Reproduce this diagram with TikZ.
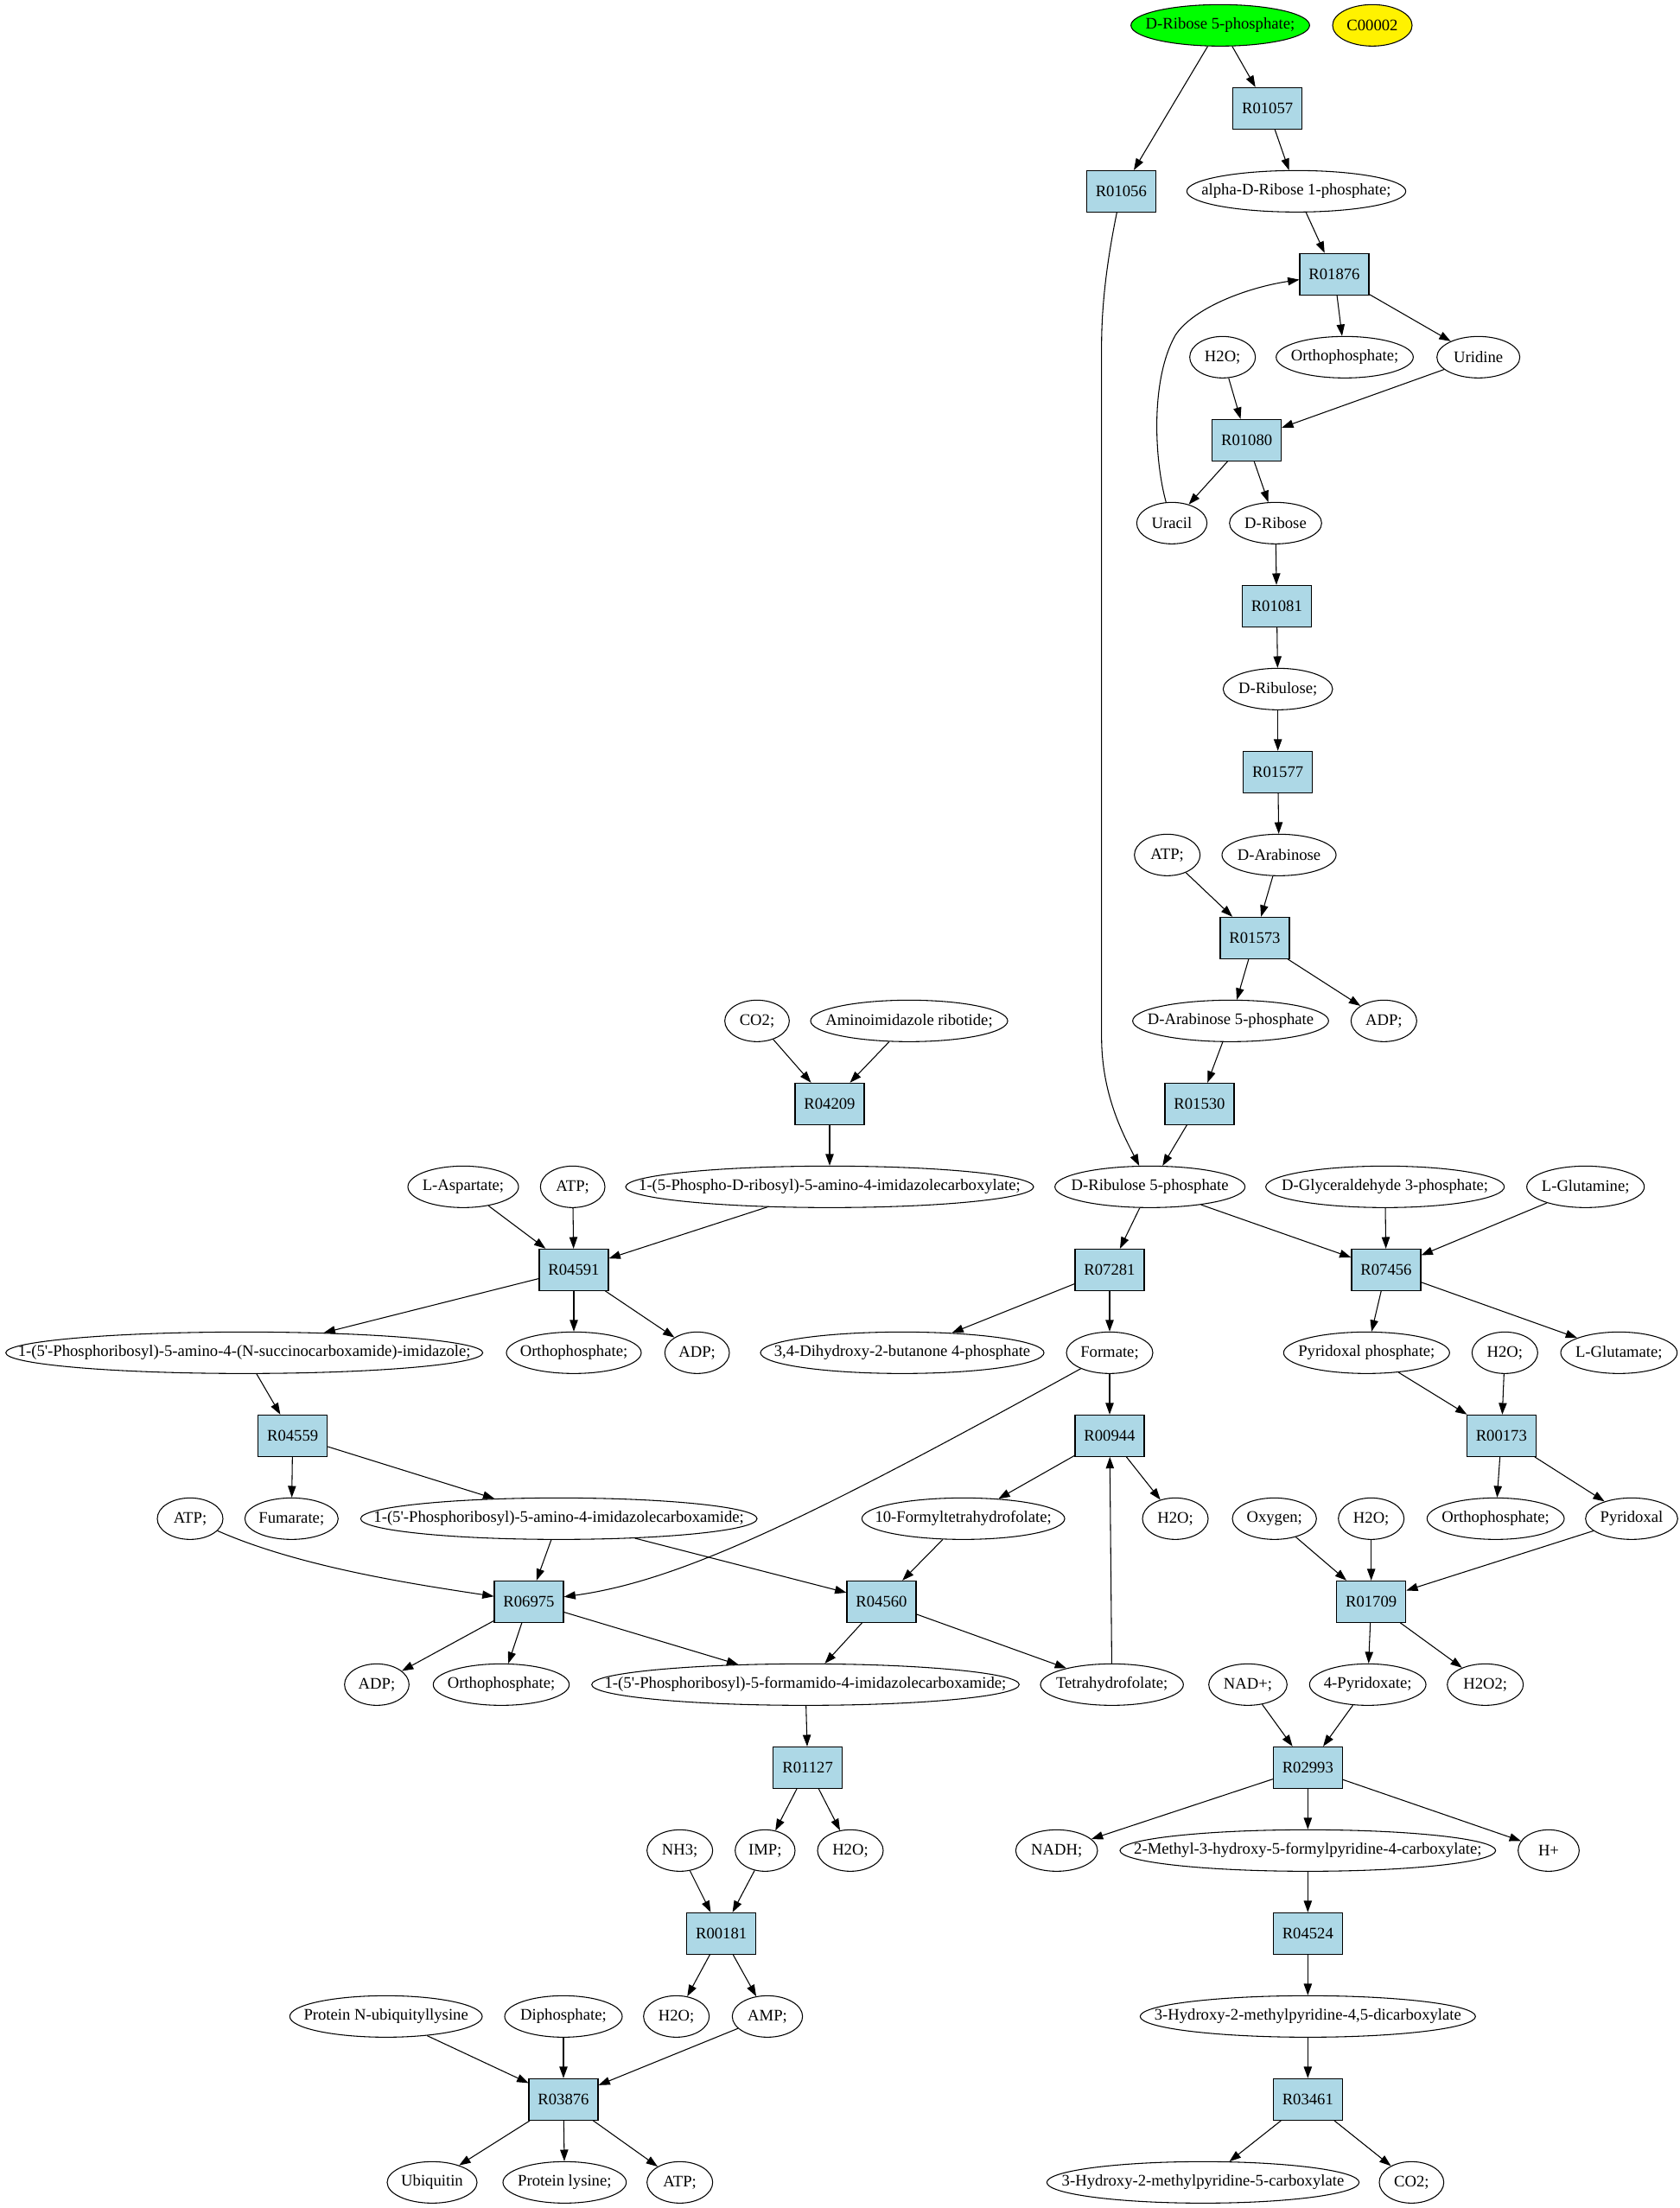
\documentclass[tikz,border=0pt]{standalone}
\usepackage{fontspec}
\setmainfont{Liberation Serif}
\usetikzlibrary{shapes.geometric,arrows.meta}
\definecolor{lb}{RGB}{173,216,230}
\newcommand{\mkR}[3]{\node[rbox] (#1) at (#2,-#3) {#1};}
\newcommand{\mkE}[5]{\node[ell,minimum width=#4pt,#5] (#1) at (#2,-#3) {\makebox[0pt]{\csname lbl#1\endcsname}};}
\newcommand{\mkL}[2]{\expandafter\def\csname lbl#1\endcsname{#2}}
\tikzset{
  base/.style={font=\fontsize{14pt}{16pt}\selectfont, line width=0.8pt, draw=black},
  rbox/.style={base, rectangle, fill=lb, minimum width=60pt, minimum height=36pt, inner sep=0pt},
  ell/.style={base, ellipse, minimum height=36pt, inner sep=0pt},
  arr/.style={-{Triangle[length=10pt,width=7pt]}, line width=0.8pt},
}
\begin{document}
\begin{tikzpicture}[x=1pt,y=1pt]
\fill[white] (0,0) rectangle (1457.25,-1916.25);
\useasboundingbox (0,0) rectangle (1457.25,-1916.25);
% labels
\mkL{rib5p}{D-Ribose 5-phosphate;}
\mkL{c2}{C00002}
\mkL{alpha}{alpha-D-Ribose 1-phosphate;}
\mkL{h2oA}{H2O;}
\mkL{orthoA}{Orthophosphate;}
\mkL{uridine}{Uridine}
\mkL{uracil}{Uracil}
\mkL{dribose}{D-Ribose}
\mkL{dribulose}{D-Ribulose;}
\mkL{atpA}{ATP;}
\mkL{darab}{D-Arabinose}
\mkL{dara5p}{D-Arabinose 5-phosphate}
\mkL{adpA}{ADP;}
\mkL{co2A}{CO2;}
\mkL{amino}{Aminoimidazole ribotide;}
\mkL{lasp}{L-Aspartate;}
\mkL{atpB}{ATP;}
\mkL{phospho}{1-(5-Phospho-D-ribosyl)-5-amino-4-imidazolecarboxylate;}
\mkL{dru5p}{D-Ribulose 5-phosphate}
\mkL{dgly}{D-Glyceraldehyde 3-phosphate;}
\mkL{lgln}{L-Glutamine;}
\mkL{succ}{1-(5\textquotesingle-Phosphoribosyl)-5-amino-4-(N-succinocarboxamide)-imidazole;}
\mkL{orthoB}{Orthophosphate;}
\mkL{adpB}{ADP;}
\mkL{dihyd}{3,4-Dihydroxy-2-butanone 4-phosphate}
\mkL{formate}{Formate;}
\mkL{pyrp}{Pyridoxal phosphate;}
\mkL{h2oB}{H2O;}
\mkL{lglu}{L-Glutamate;}
\mkL{atpC}{ATP;}
\mkL{fum}{Fumarate;}
\mkL{carbox}{1-(5\textquotesingle-Phosphoribosyl)-5-amino-4-imidazolecarboxamide;}
\mkL{formyl}{10-Formyltetrahydrofolate;}
\mkL{h2oC}{H2O;}
\mkL{oxy}{Oxygen;}
\mkL{h2oD}{H2O;}
\mkL{orthoC}{Orthophosphate;}
\mkL{pyridoxal}{Pyridoxal}
\mkL{adpC}{ADP;}
\mkL{orthoD}{Orthophosphate;}
\mkL{formam}{1-(5\textquotesingle-Phosphoribosyl)-5-formamido-4-imidazolecarboxamide;}
\mkL{thf}{Tetrahydrofolate;}
\mkL{nad}{NAD+;}
\mkL{pyridoxate}{4-Pyridoxate;}
\mkL{hoo}{H2O2;}
\mkL{nh3}{NH3;}
\mkL{imp}{IMP;}
\mkL{h2oE}{H2O;}
\mkL{nadh}{NADH;}
\mkL{methyl}{2-Methyl-3-hydroxy-5-formylpyridine-4-carboxylate;}
\mkL{hplus}{H+}
\mkL{protN}{Protein N-ubiquityllysine}
\mkL{diph}{Diphosphate;}
\mkL{h2oF}{H2O;}
\mkL{amp}{AMP;}
\mkL{dicarb}{3-Hydroxy-2-methylpyridine-4,5-dicarboxylate}
\mkL{ubq}{Ubiquitin}
\mkL{plys}{Protein lysine;}
\mkL{atpD}{ATP;}
\mkL{carbfive}{3-Hydroxy-2-methylpyridine-5-carboxylate}
\mkL{co2B}{CO2;}
% nodes
\mkE{rib5p}{1059}{22}{155}{fill=green}
\mkE{c2}{1191}{22}{69}{fill=yellow}
\mkR{R01057}{1100}{94}
\mkR{R01056}{973}{166}
\mkE{alpha}{1125}{166}{190}{}
\mkR{R01876}{1158}{238}
\mkE{h2oA}{1061}{310}{57}{}
\mkE{orthoA}{1167}{310}{119}{}
\mkE{uridine}{1283}{310}{72}{}
\mkR{R01080}{1082}{382}
\mkE{uracil}{1017}{454}{61}{}
\mkE{dribose}{1107}{454}{80}{}
\mkR{R01081}{1108}{526}
\mkE{dribulose}{1109}{598}{95}{}
\mkR{R01577}{1109}{670}
\mkE{atpA}{1013}{742}{57}{}
\mkE{darab}{1110}{742}{99}{}
\mkR{R01573}{1089}{814}
\mkE{dara5p}{1068}{886}{170}{}
\mkE{adpA}{1201}{886}{57}{}
\mkE{co2A}{657}{886}{56}{}
\mkE{amino}{789}{886}{171}{}
\mkR{R04209}{720}{958}
\mkR{R01530}{1041}{958}
\mkE{lasp}{402}{1030}{96}{}
\mkE{atpB}{497}{1030}{56}{}
\mkE{phospho}{720}{1030}{354}{}
\mkE{dru5p}{998}{1030}{165}{}
\mkE{dgly}{1202}{1030}{207}{}
\mkE{lgln}{1376}{1030}{102}{}
\mkR{R04591}{498}{1102}
\mkR{R07281}{963}{1102}
\mkR{R07456}{1203}{1102}
\mkE{succ}{212}{1174}{414}{}
\mkE{orthoB}{498}{1174}{117}{}
\mkE{adpB}{605}{1174}{56}{}
\mkE{dihyd}{783}{1174}{246}{}
\mkE{formate}{963}{1174}{75}{}
\mkE{pyrp}{1186}{1174}{144}{}
\mkE{h2oB}{1306}{1174}{57}{}
\mkE{lglu}{1405}{1174}{101}{}
\mkR{R04559}{254}{1246}
\mkR{R00944}{963}{1246}
\mkR{R00173}{1303}{1246}
\mkE{atpC}{165}{1318}{57}{}
\mkE{fum}{253}{1318}{81}{}
\mkE{carbox}{485}{1318}{344}{}
\mkE{formyl}{836}{1318}{176}{}
\mkE{h2oC}{1020}{1318}{57}{}
\mkE{oxy}{1106}{1318}{73}{}
\mkE{h2oD}{1190}{1318}{57}{}
\mkE{orthoC}{1298}{1318}{119}{}
\mkE{pyridoxal}{1416}{1318}{80}{}
\mkR{R06975}{459}{1390}
\mkR{R04560}{765}{1390}
\mkR{R01709}{1190}{1390}
\mkE{adpC}{327}{1462}{56}{}
\mkE{orthoD}{435}{1462}{118}{}
\mkE{formam}{699}{1462}{371}{}
\mkE{thf}{965}{1462}{124}{}
\mkE{nad}{1083}{1462}{68}{}
\mkE{pyridoxate}{1187}{1462}{101}{}
\mkE{hoo}{1289}{1462}{66}{}
\mkR{R01127}{701}{1534}
\mkR{R02993}{1135}{1534}
\mkE{nh3}{590}{1606}{57}{}
\mkE{imp}{664}{1606}{52}{}
\mkE{h2oE}{738}{1606}{57}{}
\mkE{nadh}{917}{1606}{71}{}
\mkE{methyl}{1135}{1606}{326}{}
\mkE{hplus}{1344}{1606}{53}{}
\mkR{R00181}{626}{1678}
\mkR{R04524}{1135}{1678}
\mkE{protN}{335}{1750}{167}{}
\mkE{diph}{489}{1750}{102}{}
\mkE{h2oF}{587}{1750}{57}{}
\mkE{amp}{666}{1750}{61}{}
\mkE{dicarb}{1135}{1750}{291}{}
\mkR{R03876}{489}{1822}
\mkR{R03461}{1135}{1822}
\mkE{ubq}{375}{1894}{78}{}
\mkE{plys}{490}{1894}{107}{}
\mkE{atpD}{590}{1894}{57}{}
\mkE{carbfive}{1044}{1894}{271}{}
\mkE{co2B}{1225}{1894}{56}{}
% edges
\foreach \a/\b in {rib5p/R01057, rib5p/R01056, R01057/alpha, alpha/R01876,
  R01876/orthoA, R01876/uridine, uridine/R01080, h2oA/R01080, R01080/uracil,
  R01080/dribose, dribose/R01081, R01081/dribulose, dribulose/R01577,
  R01577/darab, atpA/R01573, darab/R01573, R01573/dara5p, R01573/adpA,
  dara5p/R01530, R01530/dru5p, co2A/R04209, amino/R04209, R04209/phospho,
  phospho/R04591, lasp/R04591, atpB/R04591, R04591/succ, R04591/orthoB,
  R04591/adpB, succ/R04559, R04559/fum, R04559/carbox, dru5p/R07281,
  dru5p/R07456, dgly/R07456, lgln/R07456, R07281/dihyd, R07281/formate,
  R07456/pyrp, R07456/lglu, formate/R00944, pyrp/R00173, h2oB/R00173,
  R00944/formyl, R00944/h2oC, thf/R00944, R00173/orthoC, R00173/pyridoxal,
  carbox/R06975, carbox/R04560, formyl/R04560, oxy/R01709, h2oD/R01709,
  pyridoxal/R01709, R06975/adpC, R06975/orthoD, R06975/formam, R04560/formam,
  R04560/thf, R01709/pyridoxate, R01709/hoo, nad/R02993, pyridoxate/R02993,
  formam/R01127, R01127/imp, R01127/h2oE, R02993/nadh, R02993/methyl,
  R02993/hplus, nh3/R00181, imp/R00181, methyl/R04524, R04524/dicarb,
  R00181/h2oF, R00181/amp, protN/R03876, diph/R03876, amp/R03876,
  R03876/ubq, R03876/plys, R03876/atpD, dicarb/R03461, R03461/carbfive,
  R03461/co2B}
  \draw[arr] (\a) -- (\b);
\draw[arr] (uracil) .. controls (1002,-400) and (998,-330) .. (1020,-291)
  .. controls (1035,-268) and (1080,-250) .. (R01876);
\draw[arr] (R01056) .. controls (962,-220) and (956,-260) .. (956,-300)
  -- (956,-900) .. controls (956,-950) and (975,-985) .. (dru5p);
\draw[arr] (formate) .. controls (700,-1319) and (590,-1372) .. (R06975);
\draw[arr] (atpC) .. controls (260,-1360) and (360,-1375) .. (R06975);
\end{tikzpicture}
\end{document}
